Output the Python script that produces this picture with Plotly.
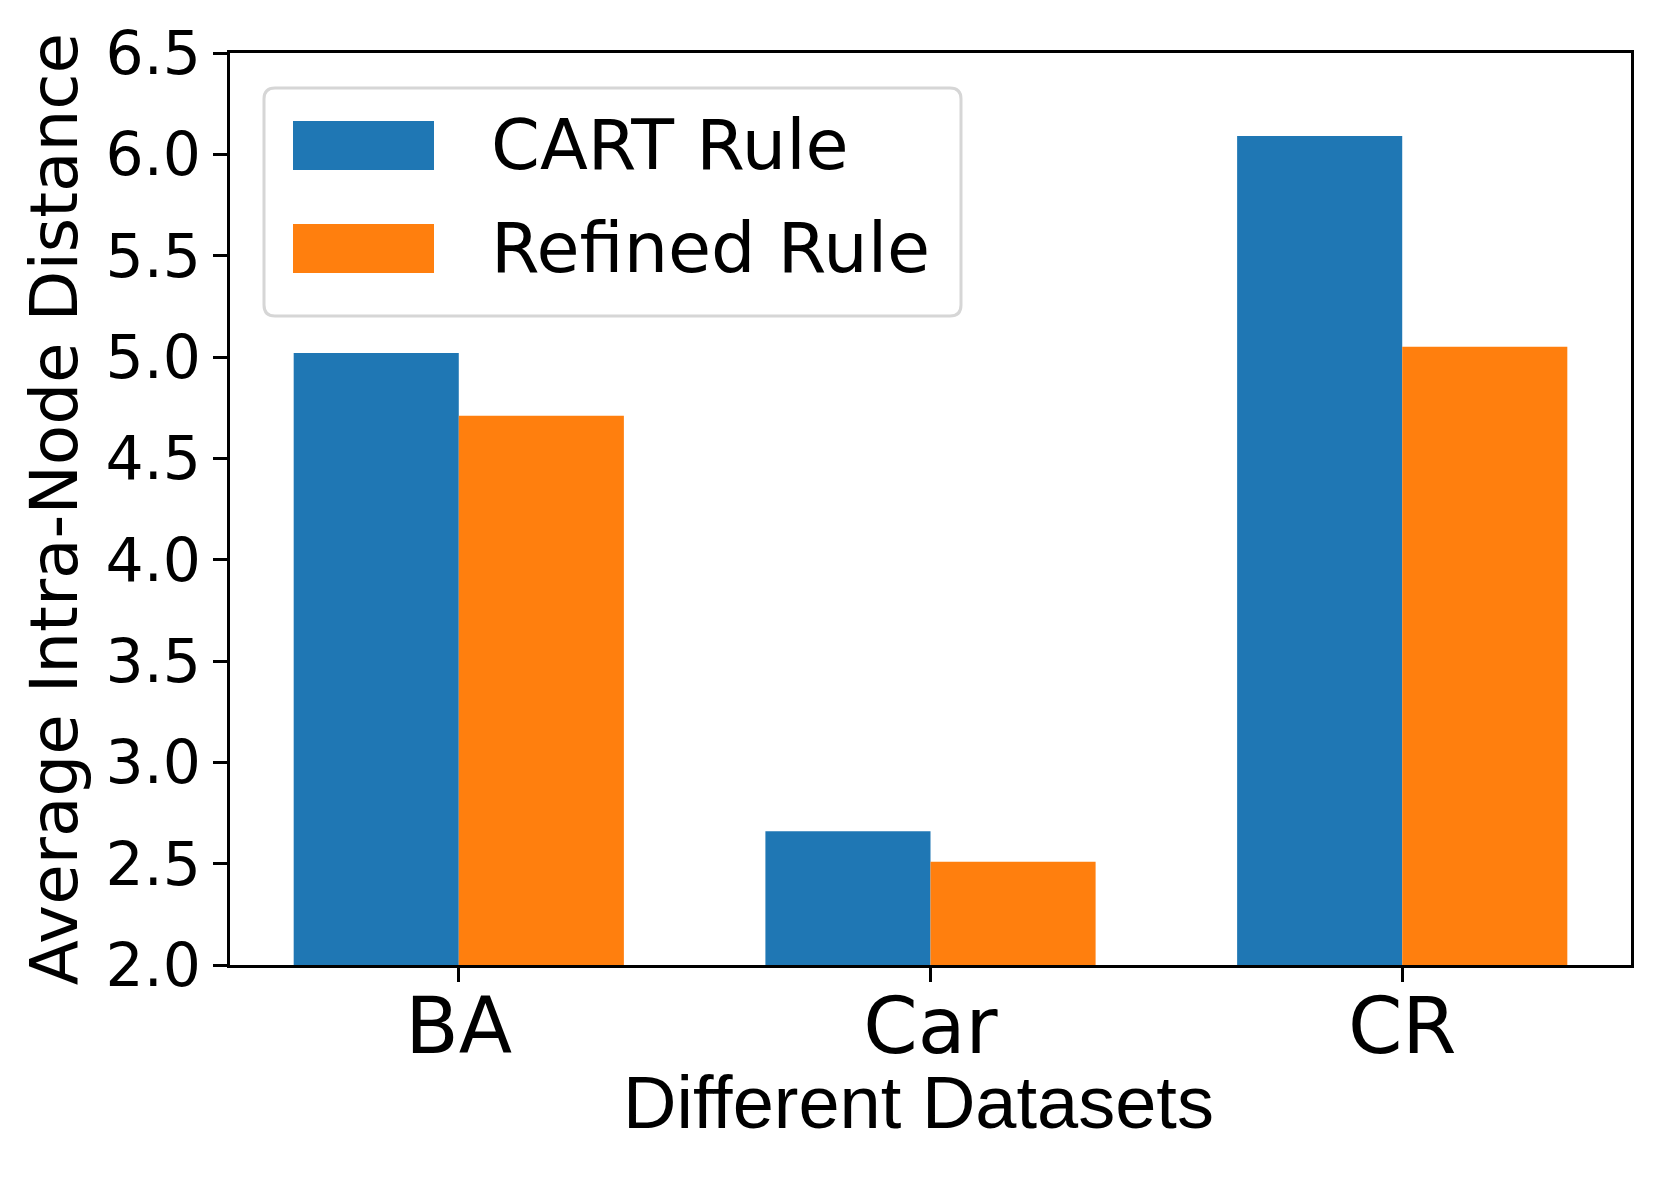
import plotly.graph_objects as go

categories = ["BA", "Car", "CR"]
cart_rule = [5.02, 2.66, 6.09]
refined_rule = [4.71, 2.51, 5.05]
series_names = ["CART Rule", "Refined Rule"]
y_ticks = [2.0, 2.5, 3.0, 3.5, 4.0, 4.5, 5.0, 5.5, 6.0, 6.5]
x_title = "Different Datasets"
y_title = "Average Intra-Node Distance"

W, H = 1661, 1192
OFF = 8  # page body margin offset
PL, PR, PT, PB = 230, 1631, 53, 965  # plot box in page pixels
ML, MT = PL - OFF, PT - OFF
MR, MB = W - (PR - OFF), H - (PB - OFF)
PW, PH = PR - PL, PB - PT

def px(x):  # page pixel -> paper
    return (x - PL) / PW

def py(y):
    return (PB - y) / PH

BLUE, ORANGE = "#1f77b4", "#ff7f0e"
DV = "DejaVu Sans"

fig = go.Figure()
fig.add_trace(go.Bar(x=categories, y=cart_rule, name=series_names[0],
                     marker=dict(color=BLUE, line=dict(width=0))))
fig.add_trace(go.Bar(x=categories, y=refined_rule, name=series_names[1],
                     marker=dict(color=ORANGE, line=dict(width=0))))

# legend box (rounded) drawn in paper coordinates
lx0, lx1, ly0, ly1 = 264, 961, 88, 316
rad = 11
def P(x, y):
    return f"{px(x):.5f},{py(y):.5f}"
path = (f"M {P(lx0+rad, ly0)} L {P(lx1-rad, ly0)} Q {P(lx1, ly0)} {P(lx1, ly0+rad)} "
        f"L {P(lx1, ly1-rad)} Q {P(lx1, ly1)} {P(lx1-rad, ly1)} "
        f"L {P(lx0+rad, ly1)} Q {P(lx0, ly1)} {P(lx0, ly1-rad)} "
        f"L {P(lx0, ly0+rad)} Q {P(lx0, ly0)} {P(lx0+rad, ly0)} Z")
shapes = [dict(type="path", xref="paper", yref="paper", path=path,
               line=dict(color="#d6d6d6", width=3), fillcolor="rgba(255,255,255,0.8)",
               layer="above")]
swatches = [(121, 170, BLUE), (224, 273, ORANGE)]
for (ya, yb, c) in swatches:
    shapes.append(dict(type="rect", xref="paper", yref="paper",
                       x0=px(293), x1=px(434), y0=py(yb), y1=py(ya),
                       fillcolor=c, line=dict(width=0), layer="above"))
annotations = []
for name, yc in zip(series_names, [145, 248]):
    annotations.append(dict(text=name, xref="paper", yref="paper", x=px(489), y=py(yc),
                            xanchor="left", yanchor="middle", showarrow=False,
                            font=dict(family=DV, size=70, color="black")))
annotations.append(dict(text=x_title, xref="paper", yref="paper", x=px(918), y=py(1102),
                        xanchor="center", yanchor="middle", showarrow=False,
                        font=dict(family="Liberation Sans, Arial", size=74, color="black")))

fig.update_layout(
    width=W, height=H,
    margin=dict(l=ML, r=MR, t=MT, b=MB, autoexpand=False),
    paper_bgcolor="white", plot_bgcolor="white",
    barmode="group", bargap=0.3, bargroupgap=0,
    showlegend=False,
    shapes=shapes, annotations=annotations,
    xaxis=dict(
        range=[-0.485, 2.485], showline=True, linecolor="black", linewidth=3, mirror=True,
        ticks="outside", ticklen=14, tickwidth=3, tickcolor="black",
        ticklabelstandoff=-23,
        tickfont=dict(family=DV, size=78, color="black"),
        showgrid=False, zeroline=False, automargin=False,
    ),
    yaxis=dict(
        range=[2.0, 6.5], tickvals=y_ticks, ticktext=[f"{v:.1f}" for v in y_ticks],
        showline=True, linecolor="black", linewidth=3, mirror=True,
        ticks="outside", ticklen=14, tickwidth=3, tickcolor="black",
        tickfont=dict(family=DV, size=60, color="black"),
        title=dict(text=y_title, font=dict(family=DV, size=66, color="black"),
                   standoff=7),
        showgrid=False, zeroline=False, automargin=False,
    ),
)

fig.write_html("out.html")
